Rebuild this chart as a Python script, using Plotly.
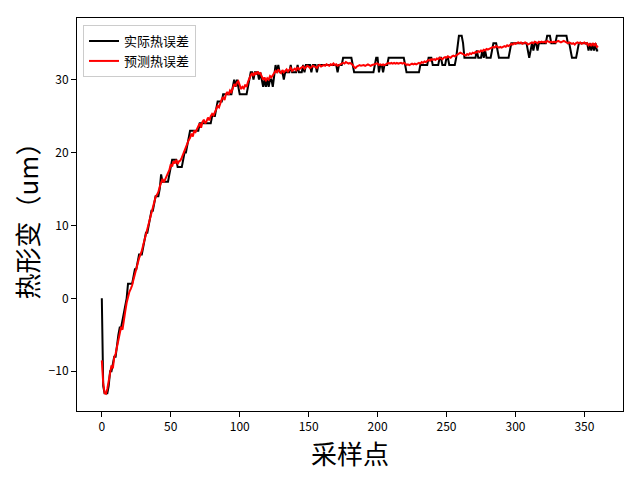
import plotly.graph_objects as go

sample_idx = list(range(361))

actual_error = [
    0, -12, -13, -13, -13, -12, -10, -10, -9, -8,
    -8, -6, -5, -4, -4, -3, -2, -1, 0, 2,
    2, 2, 2, 3, 4, 4, 5, 6, 6, 6,
    7, 8, 9, 9, 10, 11, 12, 12, 13, 14,
    14, 14, 15, 17, 16, 16, 16, 16, 16, 17,
    18, 19, 19, 19, 19, 18, 18, 18, 18, 19,
    20, 20, 21, 22, 23, 23, 23, 23, 23, 23,
    23, 24, 24, 24, 24, 24, 24, 24, 24, 24,
    25, 25, 25, 26, 27, 27, 27, 27, 28, 28,
    28, 28, 28, 28, 28, 29, 30, 29, 30, 29,
    28, 28, 28, 28, 28, 28, 29, 30, 31, 31,
    30, 31, 31, 31, 30, 31, 30, 29, 30, 29,
    30, 29, 30, 30, 29, 31, 32, 31, 32, 31,
    31, 31, 30, 31, 31, 31, 31, 32, 31, 31,
    31, 31, 32, 31, 31, 31, 32, 31, 32, 32,
    32, 32, 31, 32, 32, 32, 31, 32, 32, 32,
    32, 32, 32, 32, 32, 32, 32, 32, 32, 32,
    32, 31, 32, 32, 32, 33, 33, 33, 33, 33,
    33, 33, 32, 31, 31, 31, 31, 31, 31, 31,
    31, 31, 31, 31, 31, 31, 31, 31, 32, 33,
    33, 31, 32, 32, 31, 32, 32, 32, 33, 33,
    33, 33, 33, 33, 33, 33, 33, 33, 33, 33,
    32, 31, 31, 31, 31, 31, 31, 31, 31, 31,
    31, 32, 32, 32, 32, 32, 32, 33, 33, 33,
    32, 32, 32, 32, 32, 33, 33, 32, 32, 32,
    33, 33, 32, 32, 32, 32, 32, 33, 35, 36,
    36, 36, 35, 33, 33, 33, 33, 33, 33, 33,
    33, 33, 34, 33, 33, 33, 34, 33, 34, 33,
    33, 33, 33, 34, 35, 35, 35, 34, 33, 33,
    33, 33, 33, 33, 33, 33, 34, 35, 35, 35,
    35, 35, 35, 35, 35, 35, 35, 35, 35, 34,
    33, 34, 35, 34, 35, 35, 34, 35, 35, 35,
    35, 35, 35, 36, 36, 36, 35, 35, 35, 35,
    36, 36, 36, 36, 36, 36, 36, 36, 35, 35,
    34, 33, 33, 33, 33, 34, 35, 35, 35, 35,
    35, 35, 35, 34, 35, 34, 35, 34, 35, 34,
    34,
]

predicted_error = [
    -8.5, -11.6, -13.0, -13.1, -12.4, -11.2, -10.4, -9.2, -9.6, -8.1,
    -7.6, -6.6, -5.6, -5.0, -3.9, -4.3, -2.6, -1.8, -0.6, 0.2,
    0.9, 1.3, 1.8, 2.6, 3.4, 4.1, 4.6, 5.5, 6.0, 6.5,
    7.3, 8.0, 8.7, 9.4, 10.1, 11.0, 11.7, 12.5, 13.2, 13.9,
    14.2, 14.6, 15.3, 16.0, 16.4, 15.9, 16.3, 16.8, 17.2, 17.6,
    18.4, 18.1, 18.8, 18.5, 19.0, 18.4, 18.8, 18.9, 19.3, 19.8,
    20.3, 20.8, 21.2, 21.7, 22.0, 22.6, 22.2, 23.0, 22.8, 23.3,
    23.6, 24.0, 23.4, 24.2, 24.5, 24.0, 24.3, 24.8, 24.4, 25.0,
    25.3, 25.1, 25.6, 26.0, 26.4, 26.2, 26.9, 27.3, 27.6, 27.2,
    28.0, 28.3, 27.9, 28.5, 28.3, 28.8, 29.4, 29.1, 29.6, 29.8,
    29.2, 28.7, 29.0, 28.8, 29.3, 29.0, 29.7, 30.2, 30.6, 30.9,
    30.5, 31.0, 30.7, 31.1, 30.8, 30.9, 30.4, 30.0, 30.3, 29.8,
    30.2, 30.0, 30.5, 30.3, 30.6, 30.9, 31.2, 31.0, 31.4, 31.1,
    30.9, 31.3, 31.0, 31.2, 31.4, 31.1, 31.3, 31.6, 31.2, 31.4,
    31.5, 31.3, 31.7, 31.4, 31.5, 31.6, 31.8, 31.5, 31.7, 31.9,
    31.8, 31.6, 31.7, 31.9, 31.8, 31.7, 31.6, 31.9, 32.0, 31.8,
    31.9, 32.0, 31.9, 32.1, 32.0, 31.9, 32.1, 32.0, 32.2, 32.0,
    32.1, 31.9, 32.0, 32.1, 32.2, 32.3, 32.2, 32.4, 32.3, 32.2,
    32.3, 32.2, 32.0, 31.7, 31.6, 31.8, 31.9, 32.0, 31.9, 32.0,
    32.0, 31.9, 32.0, 32.1, 32.0, 31.9, 32.0, 32.0, 32.1, 32.2,
    32.2, 32.0, 32.1, 32.0, 32.1, 32.0, 32.1, 32.2, 32.3, 32.2,
    32.3, 32.2, 32.3, 32.2, 32.3, 32.2, 32.3, 32.3, 32.2, 32.3,
    32.2, 32.0, 32.1, 32.0, 32.1, 32.2, 32.1, 32.2, 32.1, 32.2,
    32.3, 32.2, 32.4, 32.3, 32.5, 32.4, 32.6, 32.7, 32.6, 32.8,
    32.7, 32.8, 32.7, 32.9, 32.8, 33.0, 32.9, 32.8, 33.0, 33.1,
    33.0, 33.2, 33.1, 33.0, 33.2, 33.3, 33.2, 33.3, 33.5, 33.6,
    33.7, 33.6, 33.5, 33.4, 33.3, 33.5, 33.4, 33.6, 33.5, 33.7,
    33.6, 33.8, 33.7, 33.9, 33.8, 34.0, 33.9, 34.1, 34.0, 34.2,
    34.1, 34.2, 34.3, 34.4, 34.5, 34.4, 34.6, 34.5, 34.4, 34.5,
    34.4, 34.5, 34.6, 34.5, 34.7, 34.6, 34.8, 34.9, 34.8, 35.0,
    34.9, 35.0, 35.1, 35.0, 35.1, 34.9, 35.0, 35.1, 35.0, 34.8,
    34.9, 35.0, 35.1, 35.0, 35.2, 35.1, 35.0, 35.2, 35.1, 35.2,
    35.1, 35.2, 35.1, 35.3, 35.2, 35.1, 35.2, 35.1, 35.2, 35.1,
    35.2, 35.3, 35.2, 35.1, 35.2, 35.3, 35.2, 35.1, 35.0, 35.1,
    35.0, 34.9, 35.0, 34.8, 35.0, 35.1, 35.0, 35.1, 34.9, 35.0,
    35.1, 34.9, 35.0, 34.7, 34.9, 34.6, 35.0, 34.7, 34.9, 34.5,
    34.6,
]

x_ticks = [0, 50, 100, 150, 200, 250, 300, 350]
y_ticks = [-10, 0, 10, 20, 30]
series_names = ["实际热误差", "预测热误差"]
x_title = "采样点"
y_title = "热形变（um）"

FONT = "Noto Sans CJK SC, SimHei, sans-serif"

fig = go.Figure()
fig.add_trace(go.Scatter(x=sample_idx, y=actual_error, mode="lines",
                         name=series_names[0],
                         line=dict(color="black", width=2)))
fig.add_trace(go.Scatter(x=sample_idx, y=predicted_error, mode="lines",
                         name=series_names[1],
                         line=dict(color="red", width=2)))

axis_common = dict(showline=True, linecolor="black", linewidth=1, mirror=True,
                   showgrid=False, zeroline=False, ticks="outside", ticklen=5,
                   tickcolor="black", tickwidth=1,
                   tickfont=dict(family=FONT, size=12, color="black"))

fig.update_xaxes(range=[-18, 378], tickvals=x_ticks,
                 title=dict(text=x_title, font=dict(family=FONT, size=26, color="black"),
                            standoff=8),
                 **axis_common)
fig.update_yaxes(range=[-15.45, 38.45], tickvals=y_ticks,
                 title=dict(text=y_title, font=dict(family=FONT, size=26, color="black"),
                            standoff=10),
                 **axis_common)

# page body adds an 8px offset; margins compensate so the plot area
# lands at the reference's on-screen position
fig.update_layout(
    width=640, height=480,
    margin=dict(l=69, r=25, t=10, b=77, autoexpand=False),
    plot_bgcolor="white", paper_bgcolor="white",
    font=dict(family=FONT, size=13, color="black"),
    legend=dict(x=0.011, y=0.982, xanchor="left", yanchor="top",
                bgcolor="rgba(255,255,255,0.8)", bordercolor="#cccccc", borderwidth=1,
                font=dict(family=FONT, size=13), tracegroupgap=0,
                itemwidth=30, entrywidth=110),
    showlegend=True,
)

fig.write_html("out.html")
